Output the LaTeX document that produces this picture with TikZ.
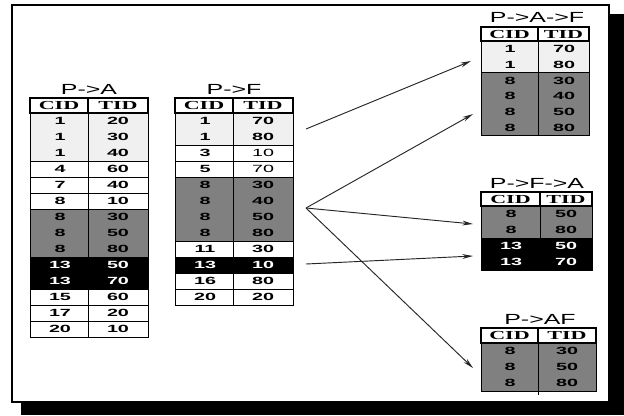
\documentclass[tikz,border=0pt]{standalone}
\usepackage{fontspec}
\usepackage{graphicx}
\newfontfamily\arialf{Liberation Sans}
\newfontfamily\timesf{Liberation Serif}
\usetikzlibrary{arrows.meta}
\definecolor{lgray}{HTML}{F0F0F0}
\definecolor{mgray}{HTML}{808080}
\newcommand\sxa[1]{\scalebox{1.7}[1]{#1}}
\newcommand\sxb[1]{\scalebox{1.9}[1]{#1}}
\newcommand\sxh[1]{\scalebox{1.8}[1]{#1}}
% block: L D R top bottom fill
\newcommand\blk[6]{\draw[blk,fill=#6] (#1,#4) rectangle (#3,#5); \draw[blk] (#2,#4) -- (#2,#5);}
% header: L D R top bottom prefix
\newcommand\hdrrow[6]{\draw[hdrbox] (#1,#4) rectangle (#3,#5); \draw[line width=1.4pt] (#2,#4) -- (#2,#5);
  \node[hdr] (#6-hc) at ({(#1+#2)/2},{(#4+#5)/2}) {\sxh{CID}};
  \node[hdr] (#6-ht) at ({(#2+#3)/2},{(#4+#5)/2}) {\sxh{TID}};}
\begin{document}
\begin{tikzpicture}[x=0.75pt,y=-0.75pt,
  ttl/.style={font=\arialf\fontsize{11}{12}\selectfont, inner sep=0},
  hdr/.style={font=\timesf\bfseries\fontsize{9.2}{10}\selectfont, inner sep=0},
  cb/.style={font=\arialf\bfseries\fontsize{7.8}{8}\selectfont, inner sep=0},
  cw/.style={cb, text=white},
  cr/.style={font=\arialf\fontsize{7.8}{8}\selectfont, inner sep=0},
  blk/.style={line width=0.75pt},
  hdrbox/.style={line width=1.4pt, fill=white},
  arr/.style={line width=0.7pt, draw=black!85, -{Stealth[length=8pt,width=3.6pt]}}]
\useasboundingbox (0,0) rectangle (624,415);
% frame with shadow
\fill[black] (21,14) rectangle (624,415);
\draw[line width=1.5pt, fill=white] (12,5) rectangle (609,402);

% ---------- P->A ----------
\node[ttl] (tA) at (89,89) {\sxa{P->A}};
\blk{30}{88}{148}{113}{161}{lgray}
\blk{30}{88}{148}{161}{177}{white}
\blk{30}{88}{148}{177}{193}{white}
\blk{30}{88}{148}{193}{209}{white}
\blk{30}{88}{148}{209}{257}{mgray}
\blk{30}{88}{148}{257}{289}{black}
\blk{30}{88}{148}{289}{305}{white}
\blk{30}{88}{148}{305}{321}{white}
\blk{30}{88}{148}{321}{337}{white}
\hdrrow{30}{88}{148}{98}{113}{A}
\foreach \c/\t/\sc/\st [count=\i] in {1/20/cb/cb,1/30/cb/cb,1/40/cb/cb,4/60/cb/cb,7/40/cb/cb,8/10/cb/cb,8/30/cb/cb,8/50/cb/cb,8/80/cb/cb,13/50/cw/cw,13/70/cw/cw,15/60/cb/cb,17/20/cb/cb,20/10/cb/cb}{
  \node[\sc] (A-c\i) at (60,{113+(\i-0.5)*16}) {\sxb{\c}};
  \node[\st] (A-t\i) at (118,{113+(\i-0.5)*16}) {\sxb{\t}};
}

% ---------- P->F ----------
\node[ttl] (tF) at (234,89) {\sxa{P->F}};
\blk{175}{233}{293}{113}{145}{lgray}
\blk{175}{233}{293}{145}{161}{white}
\blk{175}{233}{293}{161}{177}{white}
\blk{175}{233}{293}{177}{241}{mgray}
\blk{175}{233}{293}{241}{257}{white}
\blk{175}{233}{293}{257}{273}{black}
\blk{175}{233}{293}{273}{289}{white}
\blk{175}{233}{293}{289}{305}{white}
\hdrrow{175}{233}{293}{98}{113}{F}
\foreach \c/\t/\sc/\st [count=\i] in {1/70/cb/cb,1/80/cb/cb,3/10/cb/cr,5/70/cb/cr,8/30/cb/cb,8/40/cb/cb,8/50/cb/cb,8/80/cb/cb,11/30/cb/cb,13/10/cw/cw,16/80/cb/cb,20/20/cb/cb}{
  \node[\sc] (F-c\i) at (205,{113+(\i-0.5)*16}) {\sxb{\c}};
  \node[\st] (F-t\i) at (263,{113+(\i-0.5)*16}) {\sxb{\t}};
}

% ---------- P->A->F ----------
\node[ttl] (tAF) at (537,17.5) {\sxa{P->A->F}};
\blk{481}{538}{589}{41}{72.6}{lgray}
\blk{481}{538}{589}{72.6}{135.8}{mgray}
\hdrrow{481}{538}{589}{27}{41}{X}
\foreach \c/\t [count=\i] in {1/70,1/80,8/30,8/40,8/50,8/80}{
  \node[cb] (X-c\i) at (510,{41+(\i-0.5)*15.8}) {\sxb{\c}};
  \node[cb] (X-t\i) at (564,{41+(\i-0.5)*15.8}) {\sxb{\t}};
}

% ---------- P->F->A ----------
\node[ttl] (tFA) at (537,183.5) {\sxa{P->F->A}};
\blk{481}{540}{592}{206}{238}{mgray}
\blk{481}{540}{592}{238}{270}{black}
\hdrrow{481}{540}{592}{192}{206}{Y}
\foreach \c/\t/\sc [count=\i] in {8/50/cb,8/80/cb,13/50/cw,13/70/cw}{
  \node[\sc] (Y-c\i) at (511,{206+(\i-0.5)*16}) {\sxb{\c}};
  \node[\sc] (Y-t\i) at (566,{206+(\i-0.5)*16}) {\sxb{\t}};
}

% ---------- P->AF ----------
\node[ttl] (tPAF) at (540,319) {\sxa{P->AF}};
\blk{481}{538}{596}{343}{391}{mgray}
\draw[blk] (538,391) -- (538,395);
\hdrrow{481}{538}{596}{328}{343}{Z}
\foreach \c/\t [count=\i] in {8/30,8/50,8/80}{
  \node[cb] (Z-c\i) at (510,{343+(\i-0.5)*16}) {\sxb{\c}};
  \node[cb] (Z-t\i) at (567,{343+(\i-0.5)*16}) {\sxb{\t}};
}

% ---------- arrows ----------
\coordinate (s1) at (306,129);
\coordinate (s2) at (306,208);
\coordinate (s3) at (306,264);
\coordinate (e1) at (471,61);
\coordinate (e2) at (473,114);
\coordinate (e3) at (473,224);
\coordinate (e4) at (473,256);
\coordinate (e5) at (473,368);
\draw[arr] (s1) -- (e1);
\draw[arr] (s2) -- (e2);
\draw[arr] (s2) -- (e3);
\draw[arr] (s3) -- (e4);
\draw[arr] (s2) -- (e5);
\end{tikzpicture}
\end{document}
